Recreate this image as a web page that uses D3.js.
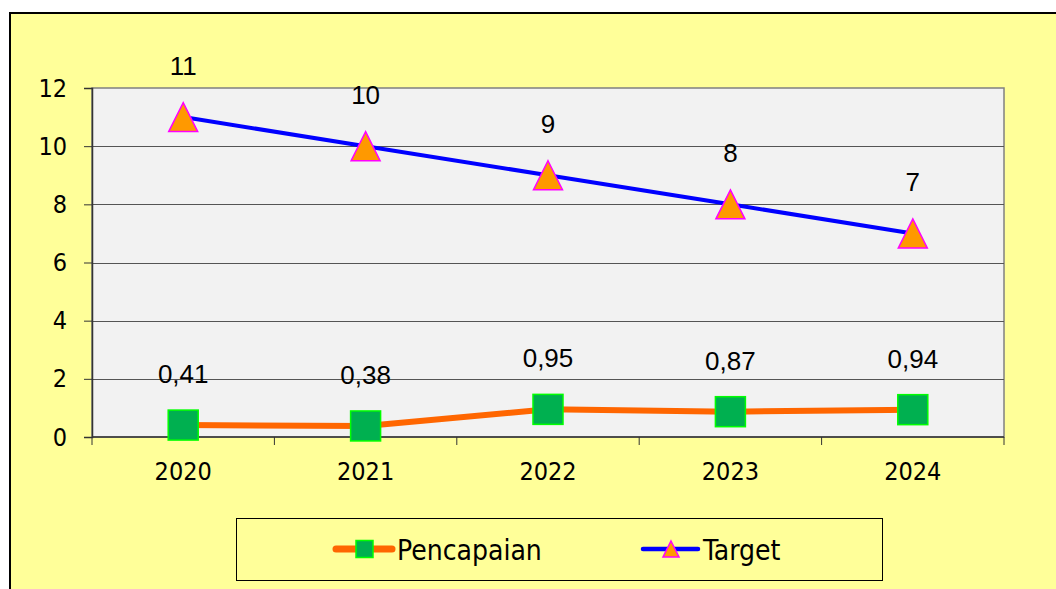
<!DOCTYPE html>
<html>
<head>
<meta charset="utf-8">
<script src="https://cdn.jsdelivr.net/npm/d3@7"></script>
<style>
  html, body { margin: 0; padding: 0; background: #fff; }
  svg { display: block; }
  .tah { font-family: "DejaVu Sans Condensed", "DejaVu Sans", sans-serif; font-stretch: condensed; }
  .ari { font-family: "Liberation Sans", Arial, sans-serif; }
</style>
</head>
<body>
<div id="chart"></div>
<script>
const years = ['2020', '2021', '2022', '2023', '2024'];
const pencapaian = [0.41, 0.38, 0.95, 0.87, 0.94];
const target = [11, 10, 9, 8, 7];
const yTicks = [0, 2, 4, 6, 8, 10, 12];
const seriesNames = ['Pencapaian', 'Target'];

const fmt = (v) => String(v).replace('.', ',');

const width = 1056;
const height = 589;
const plot = { left: 92, top: 88, right: 1004, bottom: 437 };

const svg = d3.select('#chart')
  .append('svg')
  .attr('width', width)
  .attr('height', height);

// chart background + outer border (runs off the right/bottom edge)
svg.append('rect')
  .attr('x', 10).attr('y', 13)
  .attr('width', 1100).attr('height', 620)
  .attr('fill', '#ffff99')
  .attr('stroke', '#000')
  .attr('stroke-width', 2);

const x = d3.scaleBand()
  .domain(years)
  .range([plot.left, plot.right]);

const y = d3.scaleLinear()
  .domain([0, 12])
  .range([plot.bottom, plot.top]);

// plot area
svg.append('rect')
  .attr('x', plot.left).attr('y', plot.top)
  .attr('width', plot.right - plot.left)
  .attr('height', plot.bottom - plot.top)
  .attr('fill', '#f2f2f2')
  .attr('stroke', '#808080')
  .attr('stroke-width', 1.5);

// gridlines
svg.append('g')
  .selectAll('line')
  .data(yTicks.filter(d => d > 0 && d < 12))
  .enter().append('line')
    .attr('x1', plot.left).attr('x2', plot.right)
    .attr('y1', d => Math.round(y(d)) + 0.5)
    .attr('y2', d => Math.round(y(d)) + 0.5)
    .attr('stroke', '#555')
    .attr('stroke-width', 1);

// y axis
const yAxis = svg.append('g')
  .attr('transform', `translate(${plot.left},0)`)
  .call(d3.axisLeft(y).tickValues(yTicks).tickSize(8).tickPadding(17));
yAxis.select('.domain').attr('stroke', '#333').attr('stroke-width', 1.5);
yAxis.selectAll('.tick line').attr('stroke', '#333');
yAxis.selectAll('text')
  .attr('class', 'tah')
  .attr('font-size', 25)
  .attr('fill', '#000');

// x axis, ticks at category boundaries
const xAxis = svg.append('g')
  .attr('transform', `translate(0,${plot.bottom})`);
xAxis.append('line')
  .attr('x1', plot.left).attr('x2', plot.right)
  .attr('y1', 0).attr('y2', 0)
  .attr('stroke', '#333').attr('stroke-width', 1.5);
const bounds = years.map(d => x(d)).concat([x(years[years.length - 1]) + x.bandwidth()]);
xAxis.selectAll('.xt')
  .data(bounds)
  .enter().append('line')
    .attr('x1', d => d).attr('x2', d => d)
    .attr('y1', 0).attr('y2', 8)
    .attr('stroke', '#333');
xAxis.selectAll('.xl')
  .data(years)
  .enter().append('text')
    .attr('class', 'tah')
    .attr('x', d => x(d) + x.bandwidth() / 2)
    .attr('y', 34)
    .attr('text-anchor', 'middle')
    .attr('dominant-baseline', 'central')
    .attr('font-size', 25)
    .text(d => d);

const cx = (i) => x(years[i]) + x.bandwidth() / 2;
const line = d3.line().x((d, i) => cx(i)).y(d => y(d));

// Pencapaian line
svg.append('path')
  .datum(pencapaian)
  .attr('d', line)
  .attr('fill', 'none')
  .attr('stroke', '#ff6600')
  .attr('stroke-width', 6);

// Target line
svg.append('path')
  .datum(target)
  .attr('d', line)
  .attr('fill', 'none')
  .attr('stroke', '#0000ff')
  .attr('stroke-width', 4);

const triangle = (s) => `M0,${-s / 2}L${s / 2},${s / 2}L${-s / 2},${s / 2}Z`;

// markers
svg.append('g')
  .selectAll('rect')
  .data(pencapaian)
  .enter().append('rect')
    .attr('x', (d, i) => cx(i) - 15)
    .attr('y', d => y(d) - 15)
    .attr('width', 30).attr('height', 30)
    .attr('fill', '#00b050')
    .attr('stroke', '#00ff00')
    .attr('stroke-width', 1.5);

svg.append('g')
  .selectAll('path')
  .data(target)
  .enter().append('path')
    .attr('d', triangle(29))
    .attr('transform', (d, i) => `translate(${cx(i)},${y(d)})`)
    .attr('fill', '#ff9900')
    .attr('stroke', '#ff00ff')
    .attr('stroke-width', 1.5);

// data labels
const labels = svg.append('g').attr('class', 'ari').attr('font-size', 26);
labels.selectAll('.lt')
  .data(target)
  .enter().append('text')
    .attr('x', (d, i) => cx(i))
    .attr('y', d => y(d) - 51)
    .attr('text-anchor', 'middle')
    .attr('dominant-baseline', 'central')
    .text(fmt);
labels.selectAll('.lp')
  .data(pencapaian)
  .enter().append('text')
    .attr('x', (d, i) => cx(i))
    .attr('y', d => y(d) - 51)
    .attr('text-anchor', 'middle')
    .attr('dominant-baseline', 'central')
    .text(fmt);

// legend
const legend = svg.append('g');
legend.append('rect')
  .attr('x', 236.5).attr('y', 518.5)
  .attr('width', 646).attr('height', 62)
  .attr('fill', '#ffff99')
  .attr('stroke', '#000')
  .attr('stroke-width', 1);

const legendX = [336, 643];
const legendY = 549;
const item = legend.selectAll('.item')
  .data(seriesNames)
  .enter().append('g')
    .attr('transform', (d, i) => `translate(${legendX[i]},${legendY})`);

item.append('line')
  .attr('x1', 0).attr('x2', (d, i) => i === 0 ? 56 : 55)
  .attr('y1', 0).attr('y2', 0)
  .attr('stroke', (d, i) => i === 0 ? '#ff6600' : '#0000ff')
  .attr('stroke-width', (d, i) => i === 0 ? 7 : 4.5)
  .attr('stroke-linecap', 'round');

item.filter((d, i) => i === 0).append('rect')
  .attr('x', 20).attr('y', -8.5)
  .attr('width', 17).attr('height', 17)
  .attr('fill', '#00b050')
  .attr('stroke', '#00ff00')
  .attr('stroke-width', 1.5);

item.filter((d, i) => i === 1).append('path')
  .attr('d', triangle(16))
  .attr('transform', 'translate(28,0)')
  .attr('fill', '#ff9900')
  .attr('stroke', '#ff00ff')
  .attr('stroke-width', 1.5);

item.append('text')
  .attr('class', 'tah')
  .attr('x', (d, i) => i === 0 ? 61 : 60)
  .attr('y', 1)
  .attr('dominant-baseline', 'central')
  .attr('font-size', 28)
  .text(d => d);
</script>
</body>
</html>
